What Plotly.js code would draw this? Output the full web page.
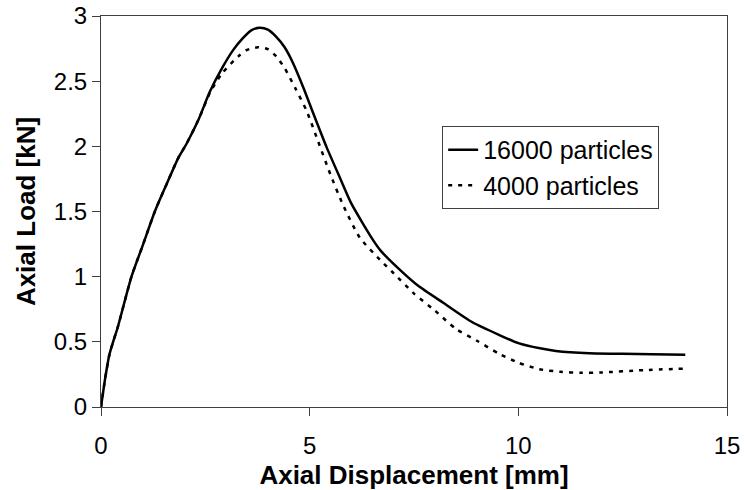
<!DOCTYPE html>
<html>
<head>
<meta charset="utf-8">
<script src="https://cdn.plot.ly/plotly-3.0.1.min.js"></script>
<style>html,body{margin:0;padding:0;background:#fff;}#chart{width:744px;height:490px;}</style>
</head>
<body>
<div id="chart"></div>
<script>
// 16000 particles
const dispA = [0, 0.1, 0.2, 0.31, 0.4, 0.73, 1.0, 1.29, 1.6, 1.85, 2.05, 2.33, 2.61, 2.9, 3.17, 3.4, 3.6, 3.8, 4.0, 4.2, 4.4, 4.6, 4.85, 5.09, 5.41, 5.73, 6.0, 6.5, 6.7, 7.17, 7.6, 8.2, 8.9, 9.56, 10.0, 10.52, 10.9, 11.7, 12.5, 13.2, 14.0];
const loadA = [0, 0.22, 0.4, 0.52, 0.61, 1.0, 1.24, 1.5, 1.73, 1.91, 2.02, 2.2, 2.42, 2.6, 2.74, 2.83, 2.89, 2.91, 2.895, 2.84, 2.76, 2.64, 2.45, 2.25, 1.99, 1.755, 1.56, 1.29, 1.2, 1.05, 0.93, 0.80, 0.65, 0.55, 0.49, 0.45, 0.43, 0.412, 0.408, 0.405, 0.40];
// 4000 particles
const dispB = [0, 0.1, 0.2, 0.31, 0.4, 0.73, 1.0, 1.29, 1.6, 1.85, 2.05, 2.33, 2.61, 2.9, 3.29, 3.5, 3.76, 4.0, 4.2, 4.4, 4.65, 4.93, 5.2, 5.49, 5.8, 6.2, 6.73, 7.0, 7.5, 8.0, 8.5, 9.0, 9.53, 10.0, 10.5, 11.0, 11.5, 12.0, 13.0, 14.0];
const loadB = [0, 0.22, 0.4, 0.52, 0.61, 1.0, 1.24, 1.5, 1.73, 1.91, 2.02, 2.2, 2.41, 2.56, 2.69, 2.74, 2.76, 2.745, 2.69, 2.6, 2.45, 2.27, 2.04, 1.79, 1.55, 1.3, 1.115, 1.03, 0.87, 0.74, 0.60, 0.51, 0.41, 0.34, 0.29, 0.27, 0.262, 0.265, 0.283, 0.295];
const seriesNames = ['16000 particles', '4000 particles'];
const xTitle = 'Axial Displacement [mm]';
const yTitle = 'Axial Load [kN]';

const font = 'Liberation Sans, Arial, sans-serif';
const axisColor = '#404040';

const data = [
  {x: dispA, y: loadA, name: seriesNames[0], type: 'scatter', mode: 'lines',
   line: {color: '#000', width: 2.5, shape: 'spline', smoothing: 0.6}},
  {x: dispB, y: loadB, name: seriesNames[1], type: 'scatter', mode: 'lines',
   line: {color: '#000', width: 2.5, dash: '4px,6px', shape: 'spline', smoothing: 0.6}}
];

const layout = {
  width: 744, height: 490,
  margin: {l: 101, r: 17, t: 16, b: 83},
  paper_bgcolor: '#fff', plot_bgcolor: '#fff',
  font: {family: font, color: '#000', size: 24},
  showlegend: true,
  legend: {x: 0.545, y: 0.7187, xanchor: 'left', yanchor: 'top',
    bgcolor: '#fff', bordercolor: axisColor, borderwidth: 1,
    font: {family: font, size: 25, color: '#000'}},
  xaxis: {range: [0, 15], dtick: 5, tick0: 0, showgrid: false, zeroline: false,
    showline: true, linecolor: axisColor, linewidth: 1, mirror: true,
    ticks: 'outside', ticklen: 8, tickcolor: axisColor, tickwidth: 1,
    ticklabelstandoff: 9,
    tickfont: {family: font, size: 24, color: '#000'},
    title: {text: xTitle, standoff: 10, font: {family: font, size: 26, color: '#000', weight: 'bold'}}},
  yaxis: {range: [0, 3], dtick: 0.5, tick0: 0, showgrid: false, zeroline: false,
    showline: true, linecolor: axisColor, linewidth: 1, mirror: true,
    ticks: 'outside', ticklen: 8, tickcolor: axisColor, tickwidth: 1,
    tickfont: {family: font, size: 24, color: '#000'},
    title: {text: yTitle, standoff: 10, font: {family: font, size: 26, color: '#000', weight: 'bold'}}}
};

Plotly.newPlot('chart', data, layout, {staticPlot: true, displayModeBar: false});
</script>
</body>
</html>
